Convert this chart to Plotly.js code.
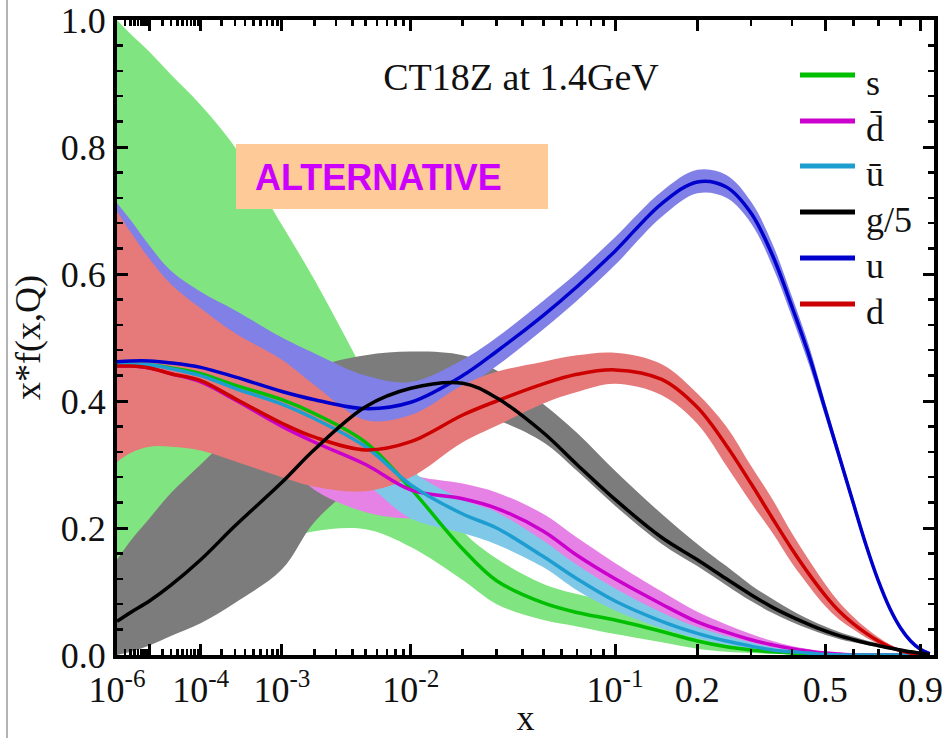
<!DOCTYPE html>
<html>
<head>
<meta charset="utf-8">
<script src="https://cdn.plot.ly/plotly-3.0.1.min.js"></script>
<style>html,body{margin:0;padding:0;background:#fff;}#chart{width:947px;height:738px;}</style>
</head>
<body>
<div id="chart"></div>
<script>
// ---- data (x values and x*f(x,Q)) ----
const xVals = [1e-6, 3e-6, 1e-5, 3e-5, 1e-4, 3e-4, 1e-3, 2e-3, 5e-3, 1e-2, 2e-2, 3e-2, 5e-2, 0.07, 0.1, 0.15, 0.2, 0.25, 0.3, 0.35, 0.4, 0.45, 0.5, 0.55, 0.6, 0.65, 0.7, 0.75, 0.8, 0.85, 0.9, 0.95];

const sCentral = [0.458, 0.458, 0.457, 0.452, 0.443, 0.425, 0.402, 0.380, 0.335, 0.262, 0.167, 0.117, 0.082, 0.067, 0.055, 0.037, 0.022, 0.013, 0.008, 0.005, 0.003, 0.0015, 0.001, 0, 0, 0, 0, 0, 0, 0, 0, 0];
const sUpper   = [1.0, 0.978, 0.950, 0.914, 0.866, 0.800, 0.677, 0.590, 0.440, 0.300, 0.195, 0.152, 0.112, 0.096, 0.082, 0.058, 0.038, 0.025, 0.016, 0.010, 0.006, 0.004, 0.002, 0.001, 0, 0, 0, 0, 0, 0, 0, 0];
const sLower   = [0.120, 0.120, 0.130, 0.140, 0.150, 0.160, 0.180, 0.195, 0.198, 0.170, 0.118, 0.080, 0.055, 0.045, 0.033, 0.020, 0.010, 0.005, 0.003, 0.002, 0.001, 0, 0, 0, 0, 0, 0, 0, 0, 0, 0, 0];

const dbarCentral = [0.455, 0.455, 0.452, 0.443, 0.430, 0.402, 0.360, 0.335, 0.300, 0.260, 0.246, 0.231, 0.195, 0.157, 0.120, 0.080, 0.052, 0.036, 0.024, 0.016, 0.010, 0.006, 0.003, 0.0015, 0, 0, 0, 0, 0, 0, 0, 0];
const dbarUpper   = [0.600, 0.580, 0.560, 0.530, 0.500, 0.460, 0.410, 0.375, 0.330, 0.285, 0.270, 0.256, 0.222, 0.185, 0.145, 0.100, 0.068, 0.048, 0.033, 0.022, 0.014, 0.009, 0.005, 0.003, 0.001, 0, 0, 0, 0, 0, 0, 0];
const dbarLower   = [0.360, 0.360, 0.360, 0.360, 0.360, 0.350, 0.310, 0.260, 0.225, 0.215, 0.220, 0.207, 0.172, 0.137, 0.100, 0.065, 0.040, 0.027, 0.017, 0.011, 0.007, 0.004, 0.002, 0.001, 0, 0, 0, 0, 0, 0, 0, 0];

const ubarCentral = [0.458, 0.458, 0.457, 0.451, 0.440, 0.420, 0.395, 0.372, 0.328, 0.268, 0.222, 0.200, 0.155, 0.120, 0.085, 0.053, 0.034, 0.022, 0.014, 0.008, 0.005, 0.003, 0.001, 0, 0, 0, 0, 0, 0, 0, 0, 0];
const ubarUpper   = [0.600, 0.580, 0.560, 0.530, 0.500, 0.465, 0.425, 0.400, 0.355, 0.290, 0.245, 0.225, 0.180, 0.142, 0.105, 0.067, 0.044, 0.030, 0.020, 0.012, 0.008, 0.005, 0.003, 0.001, 0, 0, 0, 0, 0, 0, 0, 0];
const ubarLower   = [0.360, 0.360, 0.360, 0.360, 0.360, 0.360, 0.340, 0.320, 0.270, 0.215, 0.192, 0.174, 0.138, 0.102, 0.070, 0.042, 0.026, 0.016, 0.010, 0.005, 0.003, 0.002, 0.0005, 0, 0, 0, 0, 0, 0, 0, 0, 0];

const gCentral = [0.053, 0.067, 0.085, 0.110, 0.150, 0.203, 0.272, 0.324, 0.391, 0.420, 0.428, 0.405, 0.350, 0.300, 0.245, 0.185, 0.150, 0.120, 0.095, 0.075, 0.060, 0.048, 0.038, 0.030, 0.024, 0.019, 0.015, 0.011, 0.008, 0.005, 0.003, 0.001];
const gUpper   = [0.150, 0.180, 0.215, 0.255, 0.300, 0.350, 0.400, 0.450, 0.472, 0.478, 0.472, 0.448, 0.395, 0.350, 0.290, 0.222, 0.175, 0.140, 0.110, 0.088, 0.070, 0.056, 0.045, 0.036, 0.029, 0.023, 0.018, 0.013, 0.010, 0.007, 0.004, 0.002];
const gLower   = [0.000, 0.005, 0.015, 0.030, 0.050, 0.082, 0.135, 0.210, 0.280, 0.330, 0.380, 0.370, 0.335, 0.290, 0.235, 0.175, 0.140, 0.110, 0.085, 0.066, 0.052, 0.041, 0.032, 0.025, 0.020, 0.016, 0.012, 0.009, 0.006, 0.004, 0.002, 0.0005];

const uCentral = [0.462, 0.463, 0.463, 0.460, 0.453, 0.438, 0.415, 0.402, 0.388, 0.398, 0.440, 0.478, 0.535, 0.580, 0.636, 0.711, 0.745, 0.737, 0.696, 0.629, 0.549, 0.471, 0.387, 0.310, 0.238, 0.172, 0.117, 0.074, 0.043, 0.022, 0.009, 0.002];
const uUpper   = [0.712, 0.685, 0.645, 0.605, 0.572, 0.543, 0.500, 0.475, 0.440, 0.430, 0.465, 0.500, 0.558, 0.602, 0.658, 0.730, 0.764, 0.756, 0.714, 0.647, 0.565, 0.486, 0.398, 0.319, 0.246, 0.179, 0.122, 0.078, 0.046, 0.025, 0.011, 0.003];
const uLower   = [0.400, 0.400, 0.400, 0.400, 0.400, 0.390, 0.380, 0.370, 0.365, 0.372, 0.418, 0.455, 0.513, 0.558, 0.614, 0.690, 0.727, 0.720, 0.680, 0.612, 0.533, 0.456, 0.376, 0.301, 0.230, 0.165, 0.112, 0.070, 0.040, 0.019, 0.007, 0.001];

const dCentral = [0.455, 0.455, 0.452, 0.443, 0.432, 0.404, 0.365, 0.343, 0.323, 0.336, 0.378, 0.400, 0.427, 0.442, 0.449, 0.434, 0.390, 0.330, 0.270, 0.215, 0.167, 0.127, 0.094, 0.068, 0.049, 0.034, 0.022, 0.013, 0.007, 0.003, 0.001, 0];
const dUpper   = [0.699, 0.666, 0.624, 0.584, 0.546, 0.507, 0.465, 0.425, 0.370, 0.378, 0.425, 0.446, 0.462, 0.472, 0.476, 0.458, 0.412, 0.360, 0.298, 0.245, 0.192, 0.149, 0.112, 0.082, 0.060, 0.042, 0.028, 0.017, 0.009, 0.005, 0.002, 0.0005];
const dLower   = [0.304, 0.318, 0.328, 0.328, 0.322, 0.305, 0.280, 0.265, 0.258, 0.280, 0.335, 0.361, 0.396, 0.414, 0.427, 0.409, 0.364, 0.298, 0.240, 0.192, 0.145, 0.108, 0.077, 0.055, 0.040, 0.027, 0.017, 0.009, 0.004, 0.001, 0, 0];

const xTickVals   = [1e-6, 1e-5, 1e-4, 1e-3, 1e-2, 0.1, 0.2, 0.5, 0.9];
const xTickLabels = ['10<sup>-6</sup>', '', '10<sup>-4</sup>', '10<sup>-3</sup>', '10<sup>-2</sup>', '10<sup>-1</sup>', '0.2', '0.5', '0.9'];
const legendNames = ['s', 'd\u0304', '\u016B', 'g/5', 'u', 'd'];

// ---- x scale of the original plot: x^(1/5) ----
const P = 0.2;
const T = v => Math.pow(v, P);
const tx = xVals.map(T);

const minorX = [];
for (let k = -6; k <= -2; k++) for (let m = 2; m <= 9; m++) minorX.push(m * Math.pow(10, k));
[0.3, 0.4, 0.6, 0.7, 0.8].forEach(v => minorX.push(v));

const SERIF = 'Liberation Serif, Times New Roman, Tinos, Times, DejaVu Serif, serif';
const SANS = 'Liberation Sans, Arial, Arimo, Helvetica, sans-serif';

const COL = {
  s:    {band: 'rgb(128,229,128)', line: 'rgb(0,190,0)'},
  dbar: {band: 'rgb(230,130,230)', line: 'rgb(204,0,204)'},
  ubar: {band: 'rgb(128,200,232)', line: 'rgb(30,158,208)'},
  g:    {band: 'rgb(124,124,124)', line: 'rgb(0,0,0)'},
  u:    {band: 'rgb(128,128,230)', line: 'rgb(0,0,204)'},
  d:    {band: 'rgb(230,122,122)', line: 'rgb(204,0,0)'}
};

function band(up, lo, color, name) {
  return {
    x: tx.concat(tx.slice().reverse()),
    y: up.concat(lo.slice().reverse()),
    type: 'scatter', mode: 'lines', fill: 'toself', fillcolor: color,
    line: {width: 0, shape: 'spline', smoothing: 1, color: color},
    hoverinfo: 'skip', showlegend: false, name: name + ' band'
  };
}
function curve(c, color, name) {
  return {
    x: tx, y: c, type: 'scatter', mode: 'lines', name: name,
    line: {width: 3.5, color: color, shape: 'spline', smoothing: 1},
    showlegend: false
  };
}

const data = [
  band(sUpper, sLower, COL.s.band, 's'),
  band(gUpper, gLower, COL.g.band, 'g/5'),
  band(dbarUpper, dbarLower, COL.dbar.band, 'dbar'),
  band(ubarUpper, ubarLower, COL.ubar.band, 'ubar'),
  band(uUpper, uLower, COL.u.band, 'u'),
  band(dUpper, dLower, COL.d.band, 'd'),
  curve(sCentral, COL.s.line, 's'),
  curve(dbarCentral, COL.dbar.line, 'dbar'),
  curve(ubarCentral, COL.ubar.line, 'ubar'),
  curve(uCentral, COL.u.line, 'u'),
  curve(dCentral, COL.d.line, 'd'),
  curve(gCentral, COL.g.line, 'g/5')
];

// ---- layout geometry (pixels of the reference) ----
const W = 947, H = 738, L = 117, R = 13, TOP = 20, B = 83;
const pw = W - L - R, ph = H - TOP - B;
const px2paper = p => (p - L) / pw;
const py2paper = p => (H - B - p) / ph;

const legendColors = [COL.s.line, COL.dbar.line, COL.ubar.line, COL.g.line, COL.u.line, COL.d.line];
const legendRowsPx = [75, 121, 166, 212, 258, 304];

const shapes = [];
const annotations = [];
legendNames.forEach((nm, i) => {
  const y = py2paper(legendRowsPx[i]);
  shapes.push({type: 'line', xref: 'paper', yref: 'paper', x0: px2paper(800), x1: px2paper(855), y0: y, y1: y,
               line: {color: legendColors[i], width: 5}});
  annotations.push({xref: 'paper', yref: 'paper', x: px2paper(864), y: y - 0.012, xanchor: 'left', yanchor: 'middle',
                    text: nm, showarrow: false, font: {family: SERIF, size: 36, color: '#111'}});
});
// ALTERNATIVE box
shapes.push({type: 'rect', xref: 'paper', yref: 'paper', x0: px2paper(236), x1: px2paper(548), y0: py2paper(209), y1: py2paper(144),
             fillcolor: 'rgb(253,202,152)', line: {width: 0}, layer: 'above'});
annotations.push({xref: 'paper', yref: 'paper', x: px2paper(253), y: py2paper(177), xanchor: 'left', yanchor: 'middle',
                  text: '<b>ALTERNATIVE</b>', showarrow: false, font: {family: SANS, size: 36, color: 'rgb(204,0,255)'}});
// slide border at left
shapes.push({type: 'line', xref: 'paper', yref: 'paper', x0: px2paper(7), x1: px2paper(7), y0: py2paper(H), y1: py2paper(0),
             line: {color: '#9a9a9a', width: 1.5}});

const layout = {
  width: W, height: H,
  margin: {l: L, r: R, t: TOP, b: B, pad: 0},
  paper_bgcolor: '#fff', plot_bgcolor: '#fff',
  showlegend: false,
  font: {family: SERIF, color: '#111'},
  title: {text: 'CT18Z at 1.4GeV', font: {family: SERIF, size: 38, color: '#111'},
          xref: 'container', yref: 'container', x: 521 / W, y: 1 - 77 / H, xanchor: 'center', yanchor: 'middle'},
  xaxis: {
    range: [T(1e-6), T(1e-6) + pw / 877],
    tickmode: 'array', tickvals: xTickVals.map(T), ticktext: xTickLabels,
    ticks: 'inside', ticklen: 11, tickwidth: 3, tickcolor: '#000',
    showline: true, linewidth: 4, linecolor: '#000', mirror: 'allticks',
    showgrid: false, zeroline: false,
    tickfont: {family: SERIF, size: 36, color: '#111'},
    minor: {tickmode: 'array', tickvals: minorX.map(T), ticks: 'inside', ticklen: 6, tickwidth: 2.5, tickcolor: '#000', showgrid: false},
    title: {text: 'x', font: {family: SERIF, size: 36, color: '#111'}, standoff: 2},
    automargin: false
  },
  yaxis: {
    range: [0, 1], tickmode: 'linear', tick0: 0, dtick: 0.2, tickformat: '.1f',
    ticks: 'inside', ticklen: 11, tickwidth: 3, tickcolor: '#000',
    showline: true, linewidth: 4, linecolor: '#000', mirror: 'allticks',
    showgrid: false, zeroline: false,
    tickfont: {family: SERIF, size: 36, color: '#111'},
    minor: {tickmode: 'linear', tick0: 0, dtick: 0.04, ticks: 'inside', ticklen: 6, tickwidth: 2.5, tickcolor: '#000', showgrid: false},
    title: {text: 'x*f(x,Q)', font: {family: SERIF, size: 36, color: '#111'}, standoff: 10},
    automargin: false
  },
  shapes: shapes,
  annotations: annotations
};

Plotly.newPlot('chart', data, layout, {staticPlot: true, displayModeBar: false});
</script>
</body>
</html>
